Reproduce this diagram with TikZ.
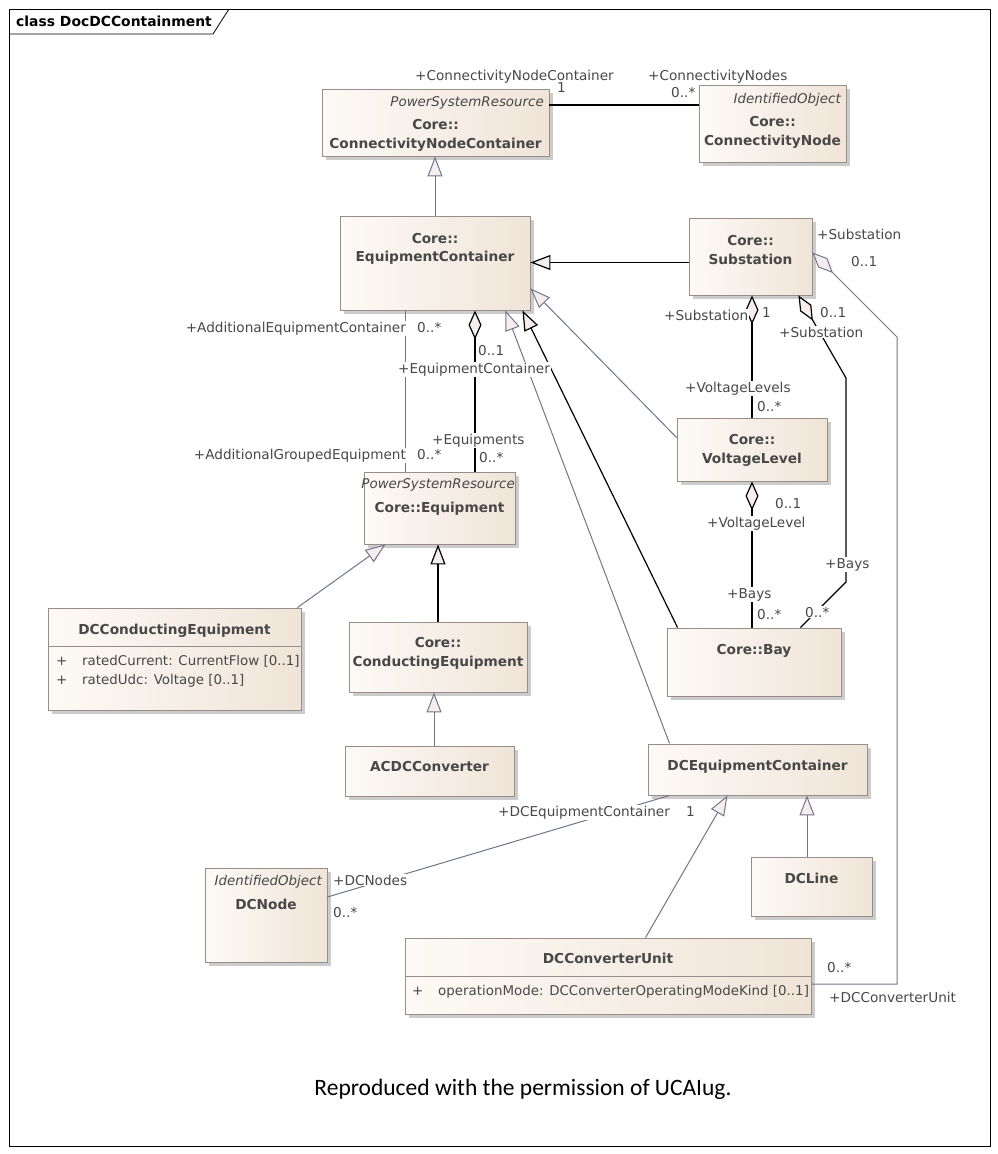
\documentclass[tikz,border=0pt]{standalone}
\usepackage{fontspec}
\setmainfont{DejaVu Sans}
\newfontfamily\capfont{Carlito}
\usetikzlibrary{arrows.meta,shadows}

\definecolor{clsleft}{RGB}{253,250,247}
\definecolor{clsright}{RGB}{240,228,215}
\definecolor{clsborder}{RGB}{150,142,138}
\definecolor{linegray}{RGB}{112,116,140}
\definecolor{tipfill}{RGB}{246,238,238}
\definecolor{txtgray}{RGB}{72,72,72}

\tikzset{
  cls/.style={draw=clsborder, line width=0.9pt, left color=clsleft, right color=clsright,
    drop shadow={shadow xshift=4pt, shadow yshift=-4pt, fill=black!20, opacity=1}, inner sep=0pt},
  cname/.style={font=\fontsize{13.7}{16}\selectfont\bfseries, text=txtgray, inner sep=0pt, anchor=base},
  stereo/.style={font=\fontsize{13.4}{16}\selectfont\itshape, text=txtgray, inner sep=0pt, anchor=base east},
  attr/.style={font=\fontsize{13.4}{16}\selectfont, text=txtgray, inner sep=0pt, anchor=base west},
  role/.style={font=\fontsize{13.6}{16}\selectfont, text=txtgray, fill=white, inner sep=1pt, anchor=base west},
  genG/.style={draw=linegray, line width=1pt, -{Triangle[length=20pt,width=15pt,fill=tipfill]}},
  genB/.style={draw=black, line width=1.2pt, -{Triangle[length=20pt,width=15pt,fill=tipfill]}},
  aggB/.style={draw=black, line width=1.2pt, {Diamond[length=29pt,width=13pt,fill=tipfill]}-},
  aggG/.style={draw=linegray, line width=1pt, {Diamond[length=29pt,width=13pt,fill=tipfill]}-},
  assocB/.style={draw=black, line width=1.2pt},
  assocG/.style={draw=linegray, line width=1pt}
}

\begin{document}
\begin{tikzpicture}[x=1pt,y=-1pt]
\useasboundingbox (0,0) rectangle (998,1154);

% frame
\draw[black, line width=0.8pt] (9,9) rectangle (990,1146);
\draw[black, line width=0.8pt] (9,34) -- (213,34) -- (229,9);
\node[font=\fontsize{13.9}{16}\selectfont\bfseries, anchor=base west, inner sep=0pt] (title) at (16,26) {class DocDCContainment};

% classes
\node[cls, minimum width=227, minimum height=67] (cnc) at (435.5,122.5) {};
\node[stereo] (cncst) at (544,106) {PowerSystemResource};
\node[cname] (cncpk) at (435.5,129) {Core::};
\node[cname] (cncnm) at (435.5,148) {ConnectivityNodeContainer};

\node[cls, minimum width=147, minimum height=77] (cn) at (772.5,123.5) {};
\node[stereo] (cnst) at (841,103) {IdentifiedObject};
\node[cname] (cnpk) at (772.5,126) {Core::};
\node[cname] (cnnm) at (772.5,145) {ConnectivityNode};

\node[cls, minimum width=190, minimum height=94] (ec) at (435,263) {};
\node[cname] (ecpk) at (435,243) {Core::};
\node[cname] (ecnm) at (435,261) {EquipmentContainer};

\node[cls, minimum width=123, minimum height=77] (sub) at (750.5,256.5) {};
\node[cname] (subpk) at (750.5,245) {Core::};
\node[cname] (subnm) at (750.5,264) {Substation};

\node[cls, minimum width=150, minimum height=63] (vl) at (752,449.5) {};
\node[cname] (vlpk) at (752,444) {Core::};
\node[cname] (vlnm) at (752,463) {VoltageLevel};

\node[cls, minimum width=174, minimum height=68] (bay) at (754,662) {};
\node[cname] (baynm) at (754,654) {Core::Bay};

\node[cls, minimum width=151, minimum height=72] (eq) at (439.5,508) {};
\node[stereo] (eqst) at (515,488) {PowerSystemResource};
\node[cname] (eqnm) at (439.5,512) {Core::Equipment};

\node[cls, minimum width=253, minimum height=102] (dcce) at (174.5,659) {};
\node[cname] (dccenm) at (174.5,634) {DCConductingEquipment};
\draw[clsborder, line width=0.9pt] (dcce.west |- 0,646) -- (dcce.east |- 0,646);
\node[attr] (dcceat1) at (56,665) {\makebox[26pt][l]{+}ratedCurrent: CurrentFlow [0..1]};
\node[attr] (dcceat2) at (56,684) {\makebox[26pt][l]{+}ratedUdc: Voltage [0..1]};

\node[cls, minimum width=178, minimum height=70] (ce) at (438,657) {};
\node[cname] (cepk) at (438,647) {Core::};
\node[cname] (cenm) at (438,666) {ConductingEquipment};

\node[cls, minimum width=169, minimum height=50] (acdc) at (429.5,771) {};
\node[cname] (acdcnm) at (429.5,771) {ACDCConverter};

\node[cls, minimum width=219, minimum height=51] (dcec) at (757.5,769.5) {};
\node[cname] (dcecnm) at (757.5,770) {DCEquipmentContainer};

\node[cls, minimum width=121, minimum height=59] (dcline) at (811.5,886.5) {};
\node[cname] (dclinenm) at (811.5,883) {DCLine};

\node[cls, minimum width=122, minimum height=94] (dcnode) at (266,915) {};
\node[stereo] (dcnodest) at (322,885) {IdentifiedObject};
\node[cname] (dcnodenm) at (266,909) {DCNode};

\node[cls, minimum width=406, minimum height=76] (dccu) at (608,976) {};
\node[cname] (dccunm) at (608,963) {DCConverterUnit};
\draw[clsborder, line width=0.9pt] (dccu.west |- 0,976) -- (dccu.east |- 0,976);
\node[attr] (dccuat) at (412,995) {\makebox[26pt][l]{+}operationMode: DCConverterOperatingModeKind [0..1]};

% generalisations
\draw[genG] (ec.north) -- (ec.north |- cnc.south);
\draw[genB] ([yshift=-6pt]sub.west) -- ([yshift=-6pt]sub.west -| ec.east);
\draw[genG] ([yshift=12pt]vl.west) -- ([yshift=22pt]ec.south east);
\draw[genB] ([xshift=11pt]bay.north west) -- ([xshift=-8pt]ec.south east);
\draw[genG] ([xshift=22pt]dcec.north west) -- ([xshift=-25pt]ec.south east);
\draw[genG] ([xshift=-4pt]dcce.north east) -- ([xshift=22pt]eq.south west);
\draw[genB] (ce.north) -- (ce.north |- eq.south);
\draw[genG] ([xshift=4.5pt]acdc.north) -- ([xshift=4.5pt]acdc.north |- ce.south);
\draw[genG] ([xshift=241pt]dccu.north west) -- ([xshift=-30pt]dcec.south);
\draw[genG] ([xshift=-4.5pt]dcline.north) -- ([xshift=-4.5pt]dcline.north |- dcec.south);

% associations
\draw[assocB] ([yshift=17.5pt]cnc.east) -- ([yshift=17.5pt]cnc.east -| cn.west);
\draw[aggB] ([xshift=40pt]ec.south) -- ([xshift=40pt]ec.south |- eq.north);
\draw[assocG] ([xshift=-30pt]ec.south) -- ([xshift=-30pt]ec.south |- eq.north);
\draw[aggB] (vl.north |- sub.south) -- (vl.north);
\draw[aggB] (vl.south) -- (vl.south |- bay.north);
\coordinate (sb1) at (846,378);
\coordinate (sb2) at (846,582);
\draw[aggB] ([xshift=-14pt]sub.south east) -- (sb1) -- (sb2) -- ([xshift=-41pt]bay.north east);
\coordinate (su1) at (897,337);
\coordinate (su2) at (897,984);
\draw[aggG] ([yshift=4pt]sub.east) -- (su1) -- (su2) -- (su2 -| dccu.east);
\draw[assocG] ([yshift=18pt]dcnode.east) -- ([xshift=22pt]dcec.south west);

% role names and multiplicities
\node[role] (r1) at (414,80) {+ConnectivityNodeContainer};
\node[role] (m1) at (556,92) {1};
\node[role] (r2) at (647,80) {+ConnectivityNodes};
\node[role] (m2) at (670,97) {0..*};
\node[role, anchor=base east] (r3) at (407,332) {+AdditionalEquipmentContainer};
\node[role] (m3) at (416,332) {0..*};
\node[role] (m4) at (477,355) {0..1};
\node[role] (r4) at (397,373) {+EquipmentContainer};
\node[role] (r5) at (431,444) {+Equipments};
\node[role] (m5) at (478,462) {0..*};
\node[role, anchor=base east] (r6) at (407,459) {+AdditionalGroupedEquipment};
\node[role] (m6) at (416,459) {0..*};
\node[role] (r7) at (663,320) {+Substation};
\node[role] (m7) at (761,317) {1};
\node[role] (m8) at (819,317) {0..1};
\node[role] (r8) at (778,337) {+Substation};
\node[role] (r9) at (684,392) {+VoltageLevels};
\node[role] (m9) at (756,411) {0..*};
\node[role] (m10) at (774,508) {0..1};
\node[role] (r10) at (706,527) {+VoltageLevel};
\node[role] (r11) at (824,568) {+Bays};
\node[role] (r12) at (726,598) {+Bays};
\node[role] (m11) at (756,619) {0..*};
\node[role] (m12) at (804,617) {0..*};
\node[role] (r13) at (816,239) {+Substation};
\node[role] (m13) at (850,266) {0..1};
\node[role] (r14) at (497,816) {+DCEquipmentContainer};
\node[role] (m14) at (685,816) {1};
\node[role] (r15) at (332,885) {+DCNodes};
\node[role] (m15) at (332,917) {0..*};
\node[role] (m16) at (826,972) {0..*};
\node[role] (r16) at (828,1002) {+DCConverterUnit};

% caption
\node[font=\capfont\fontsize{23.5}{26}\selectfont, inner sep=0pt] (cap) at (523,1089) {Reproduced with the permission of UCAIug.};
\end{tikzpicture}
\end{document}
